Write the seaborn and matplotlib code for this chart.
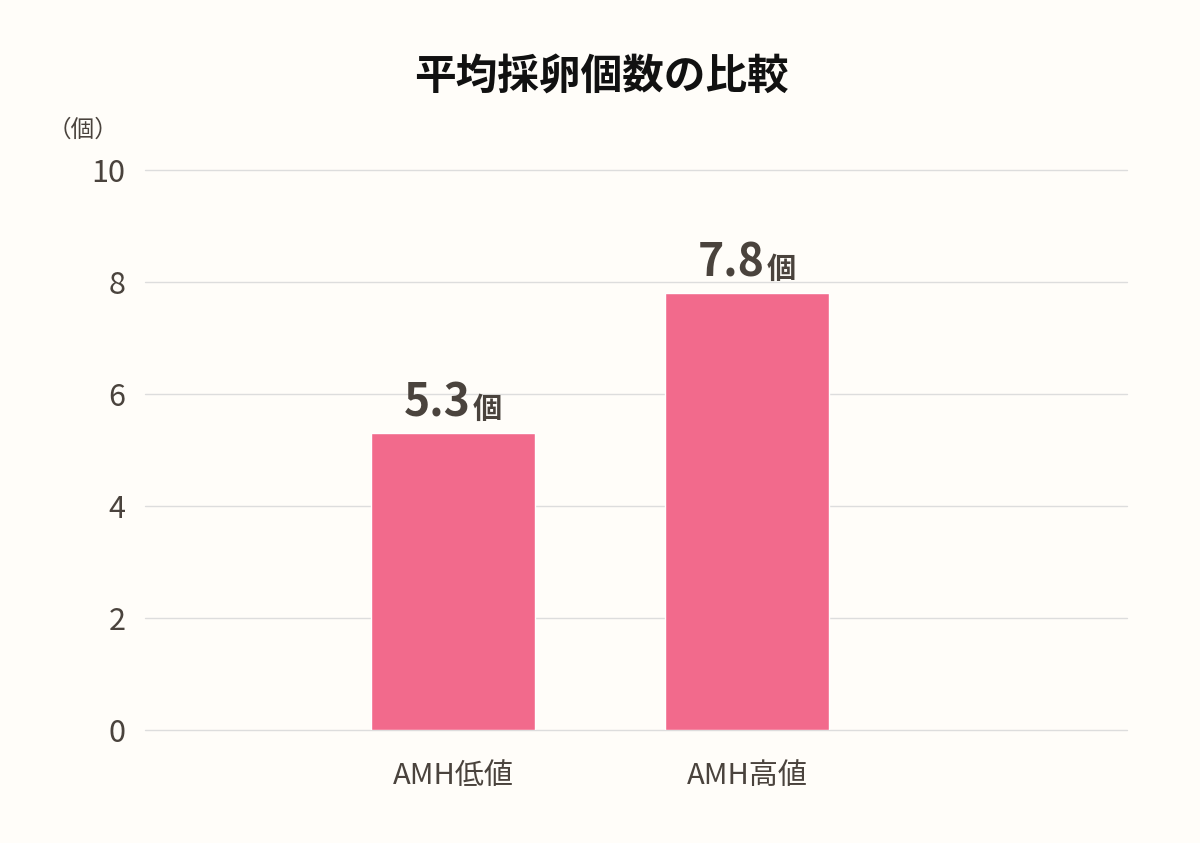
import matplotlib
matplotlib.use('Agg')
import matplotlib.pyplot as plt
import seaborn as sns
import pandas as pd

# Data
categories = ['AMH低値', 'AMH高値']
values = [5.3, 7.8]
yticks = [0, 2, 4, 6, 8, 10]

BG = '#fffdf9'
BAR = '#f26a8c'
TXT = '#4a433d'

sns.set_theme(style='white')
plt.rcParams['font.family'] = ['Noto Sans CJK JP', 'DejaVu Sans']

df = pd.DataFrame({'group': categories, 'count': values})

fig = plt.figure(figsize=(12, 8.43), dpi=100, facecolor=BG)
ax = fig.add_axes([0.1208, 0.134, 0.8184, 0.6643], facecolor=BG)

sns.barplot(data=df, x='group', y='count', color=BAR, saturation=1,
            width=0.555, ax=ax, zorder=3)

ax.set_xlim(-1.048, 2.293)
ax.set_ylim(0, 10)
ax.set_yticks(yticks)
ax.yaxis.grid(True, color='#dddddd', linewidth=1, zorder=0)
for gl in ax.get_ygridlines():
    gl.set_clip_on(False)
ax.set_axisbelow(True)
for s in ax.spines.values():
    s.set_visible(False)
ax.tick_params(axis='y', labelsize=22, colors=TXT, length=0, pad=14)
ax.tick_params(axis='x', labelsize=21, colors=TXT, length=0, pad=22)
ax.set_xlabel('')
ax.set_ylabel('')

# value labels
for i, v in enumerate(values):
    ax.annotate(f'{v:.1f}', (i, v), xytext=(13, 5), textcoords='offset points',
                ha='right', va='bottom', fontsize=32, fontweight='bold', color=TXT)
    ax.annotate('個', (i, v), xytext=(14, 7), textcoords='offset points',
                ha='left', va='bottom', fontsize=21, fontweight='bold', color=TXT)

fig.text(0.501, 0.909, '平均採卵個数の比較', ha='center', va='center',
         fontsize=30, fontweight='bold', color='#111111')
fig.text(0.04, 0.845, '（個）', ha='left', va='center', fontsize=17, color=TXT)

fig.savefig('out.png', dpi=100, facecolor=BG)
